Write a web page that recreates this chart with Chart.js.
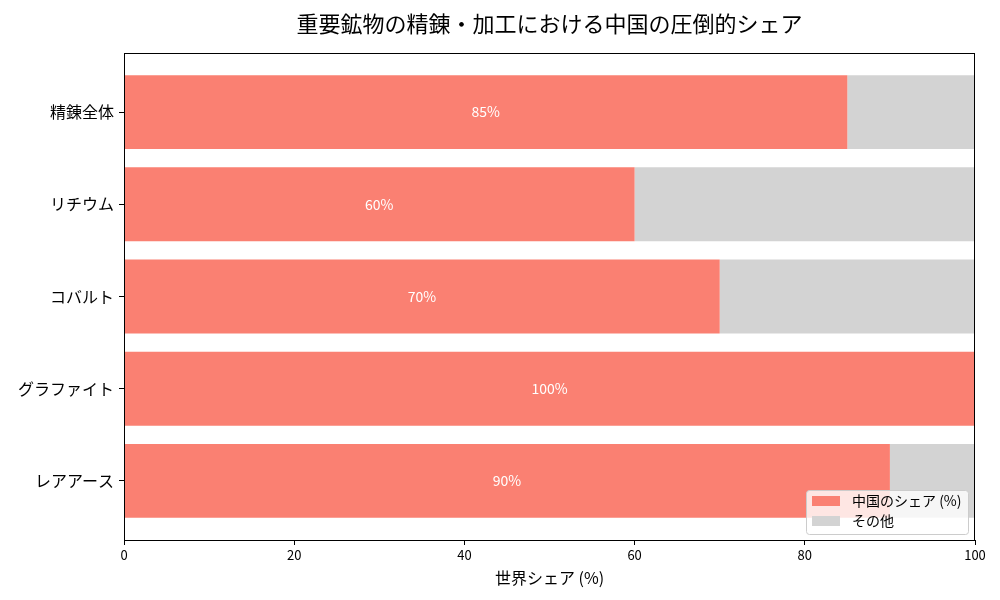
<!DOCTYPE html>
<html><head><meta charset="utf-8">
<script src="https://cdn.jsdelivr.net/npm/chart.js@4.4.1/dist/chart.umd.min.js"></script>
<style>html,body{margin:0;padding:0;background:#fff}#wrap{width:1000px;height:600px}</style>
</head><body><div id="wrap"><canvas id="c" width="1000" height="600"></canvas></div>
<script>
const categories = ['精錬全体', 'リチウム', 'コバルト', 'グラファイト', 'レアアース'];
const chinaShare = [85, 60, 70, 100, 90];
const otherShare = [15, 40, 30, 0, 10];
const xTicks = [0, 20, 40, 60, 80, 100];
const seriesLabels = ['中国のシェア (%)', 'その他'];
const titleText = '重要鉱物の精錬・加工における中国の圧倒的シェア';
const xTitle = '世界シェア (%)';

const FONT = '"Noto Sans CJK JP", "Noto Sans", sans-serif';
const RED = '#FA8072', GRAY = '#D3D3D3';

const frame = {
  id: 'frame',
  afterDraw(chart) {
    const {ctx, chartArea: a} = chart;
    ctx.save();
    ctx.fillStyle = '#000';
    ctx.font = '22px ' + FONT;
    ctx.textAlign = 'center';
    ctx.textBaseline = 'middle';
    ctx.fillText(titleText, (a.left + a.right) / 2, 24);
    const meta = chart.getDatasetMeta(0);
    ctx.font = '14px ' + FONT;
    ctx.fillStyle = '#fff';
    meta.data.forEach((bar, i) => {
      const cx = chart.scales.x.getPixelForValue(chinaShare[i] / 2);
      ctx.fillText(chinaShare[i] + '%', cx, bar.y);
    });
    ctx.strokeStyle = '#000';
    ctx.lineWidth = 1;
    ctx.strokeRect(a.left + 0.5, a.top + 0.5, a.right - a.left - 1, a.bottom - a.top);
    const lw = 162, lh = 44;
    const lx = a.right - 7 - lw, ly = a.bottom - 6 - lh;
    ctx.fillStyle = 'rgba(255,255,255,0.8)';
    ctx.strokeStyle = '#cccccc';
    ctx.beginPath();
    ctx.roundRect(lx + 0.5, ly + 0.5, lw, lh, 3);
    ctx.fill(); ctx.stroke();
    const cols = [RED, GRAY];
    ctx.font = '14px ' + FONT;
    ctx.textAlign = 'left';
    seriesLabels.forEach((lab, i) => {
      const yy = ly + 11 + i * 20;
      ctx.fillStyle = cols[i];
      ctx.fillRect(lx + 6, yy - 5, 28, 10);
      ctx.fillStyle = '#000';
      ctx.fillText(lab, lx + 46, yy);
    });
    ctx.restore();
  }
};

new Chart(document.getElementById('c'), {
  type: 'bar',
  data: {
    datasets: [
      { label: seriesLabels[0], data: chinaShare.map((v, i) => ({x: v, y: i})), backgroundColor: RED, barPercentage: 0.8, categoryPercentage: 1 },
      { label: seriesLabels[1], data: otherShare.map((v, i) => ({x: v, y: i})), backgroundColor: GRAY, barPercentage: 0.8, categoryPercentage: 1 }
    ]
  },
  options: {
    indexAxis: 'y',
    responsive: false,
    animation: false,
    devicePixelRatio: 1,
    layout: { padding: { top: 53, right: 25, left: 0, bottom: 12 } },
    plugins: { legend: { display: false }, tooltip: { enabled: false } },
    scales: {
      x: {
        type: 'linear', stacked: true, min: 0, max: 100,
        afterBuildTicks(s) { s.ticks = xTicks.map(v => ({value: v})); },
        grid: { drawOnChartArea: false, drawTicks: true, tickLength: 5, color: '#000' },
        border: { display: false },
        ticks: { color: '#000', font: { family: FONT, size: 13 }, padding: 2, maxRotation: 0 },
        title: { display: true, text: xTitle, color: '#000', font: { family: FONT, size: 16 }, padding: { top: 0, bottom: 0 } },
        afterFit(s) { s.height = 48; }
      },
      y: {
        type: 'linear', stacked: true, reverse: true, min: -0.64, max: 4.64, offset: false,
        afterBuildTicks(s) { s.ticks = categories.map((c, i) => ({value: i})); },
        grid: { drawOnChartArea: false, drawTicks: true, tickLength: 5, color: '#000', offset: false },
        border: { display: false },
        ticks: { color: '#000', font: { family: FONT, size: 16 }, padding: 5, callback: (v) => categories[v] },
        afterFit(s) { s.width = 124; }
      }
    }
  },
  plugins: [frame]
});
</script></body></html>
